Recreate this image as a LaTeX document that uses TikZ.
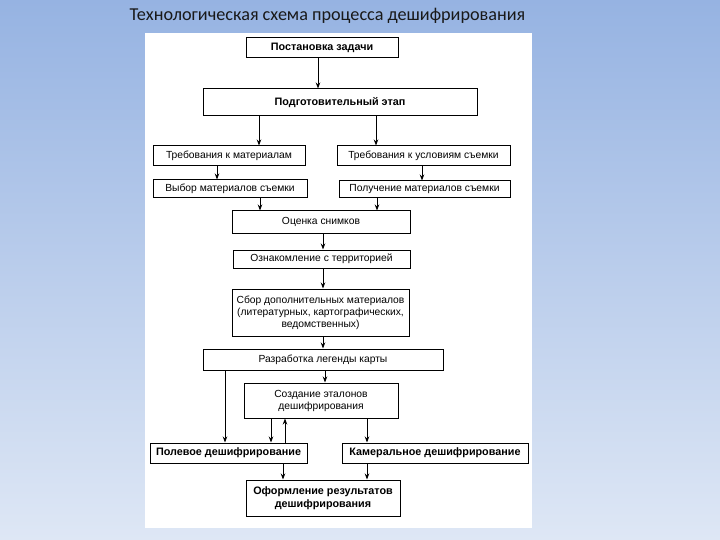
\documentclass[tikz,border=0pt]{standalone}
\usepackage{fontspec}
\setmainfont{Liberation Sans}
\newfontfamily\titlefont{Carlito}
\usetikzlibrary{arrows.meta}
\definecolor{bgtop}{RGB}{150,179,226}
\definecolor{bgbot}{RGB}{222,231,245}
\tikzset{
  box/.style={draw=black, line width=1pt, fill=white, inner sep=1pt, align=center, font=\fontsize{10.3}{12}\selectfont},
  bbox/.style={box, font=\fontsize{10.8}{12.5}\selectfont\bfseries},
  arr/.style={line width=0.9pt, -{Stealth[length=6pt,width=4.5pt]}},
  ln/.style={line width=0.9pt}
}
\begin{document}
\begin{tikzpicture}[x=1pt,y=-1pt]
\shade[top color=bgtop, bottom color=bgbot] (0,0) rectangle (720,540);
\useasboundingbox (0,0) rectangle (720,540);
\fill[white] (145,33) rectangle (532,528);
\node[font=\titlefont\fontsize{18.2}{21}\selectfont, text=black!90] (title) at (327.5,16) {Технологическая схема процесса дешифрирования};

\node[bbox, minimum width=152, minimum height=20] (n1) at (322,48) {Постановка задачи};
\node[bbox, minimum width=274, minimum height=27] (n2) at (340,102.5) {Подготовительный этап};
\node[box, minimum width=152, minimum height=20] (n3) at (229,156) {Требования к материалам};
\node[box, minimum width=173, minimum height=20] (n4) at (423.5,156) {Требования к условиям съемки};
\node[box, minimum width=154, minimum height=18] (n5) at (230,189) {Выбор материалов съемки};
\node[box, minimum width=171, minimum height=17] (n6) at (424.5,189.5) {Получение материалов съемки};
\node[box, minimum width=178, minimum height=22] (n7) at (321,222) {Оценка снимков};
\node[box, minimum width=177, minimum height=18] (n8) at (321.5,259) {Ознакомление с территорией};
\node[box, minimum width=177, minimum height=47] (n9) at (320.5,312.5) {Сбор дополнительных материалов\\(литературных, картографических,\\ведомственных)};
\node[box, minimum width=240, minimum height=21] (n10) at (323,359.5) {Разработка легенды карты};
\node[box, minimum width=154, minimum height=35] (n11) at (321,400.5) {Создание эталонов\\дешифрирования};
\node[bbox, minimum width=157, minimum height=20] (n12) at (228.5,453) {Полевое дешифрирование};
\node[bbox, minimum width=186, minimum height=20] (n13) at (435,453) {Камеральное дешифрирование};
\node[bbox, minimum width=154, minimum height=36] (n14) at (323,498) {Оформление результатов\\дешифрирования};

\coordinate (c318) at (318,0);
\coordinate (c259) at (259,0);
\coordinate (c376) at (376,0);
\coordinate (c217) at (217,0);
\coordinate (c422) at (422,0);
\coordinate (c260) at (260,0);
\coordinate (c377) at (377,0);
\coordinate (c323) at (323,0);
\coordinate (c325) at (325,0);
\coordinate (c225) at (225,0);
\coordinate (c271) at (271,0);
\coordinate (c285) at (285,0);
\coordinate (c367) at (367,0);
\coordinate (c283) at (283,0);

\draw[arr] (n1.south -| c318) -- (n2.north -| c318);
\draw[arr] (n2.south -| c259) -- (n3.north -| c259);
\draw[arr] (n2.south -| c376) -- (n4.north -| c376);
\draw[arr] (n3.south -| c217) -- (n5.north -| c217);
\draw[arr] (n4.south -| c422) -- (n6.north -| c422);
\draw[arr] (n5.south -| c260) -- (n7.north -| c260);
\draw[arr] (n6.south -| c377) -- (n7.north -| c377);
\draw[arr] (n7.south -| c323) -- (n8.north -| c323);
\draw[arr] (n8.south -| c323) -- (n9.north -| c323);
\draw[arr] (n9.south -| c323) -- (n10.north -| c323);
\draw[arr] (n10.south -| c325) -- (n11.north -| c325);
\draw[arr] (n10.south -| c225) -- (n12.north -| c225);
\draw[arr] (n11.south -| c271) -- (n12.north -| c271);
\draw[arr] (n12.north -| c285) -- (n11.south -| c285);
\draw[arr] (n11.south -| c367) -- (n13.north -| c367);
\draw[arr] (n12.south -| c283) -- (n14.north -| c283);
\draw[arr] (n13.south -| c367) -- (n14.north -| c367);
\end{tikzpicture}
\end{document}
